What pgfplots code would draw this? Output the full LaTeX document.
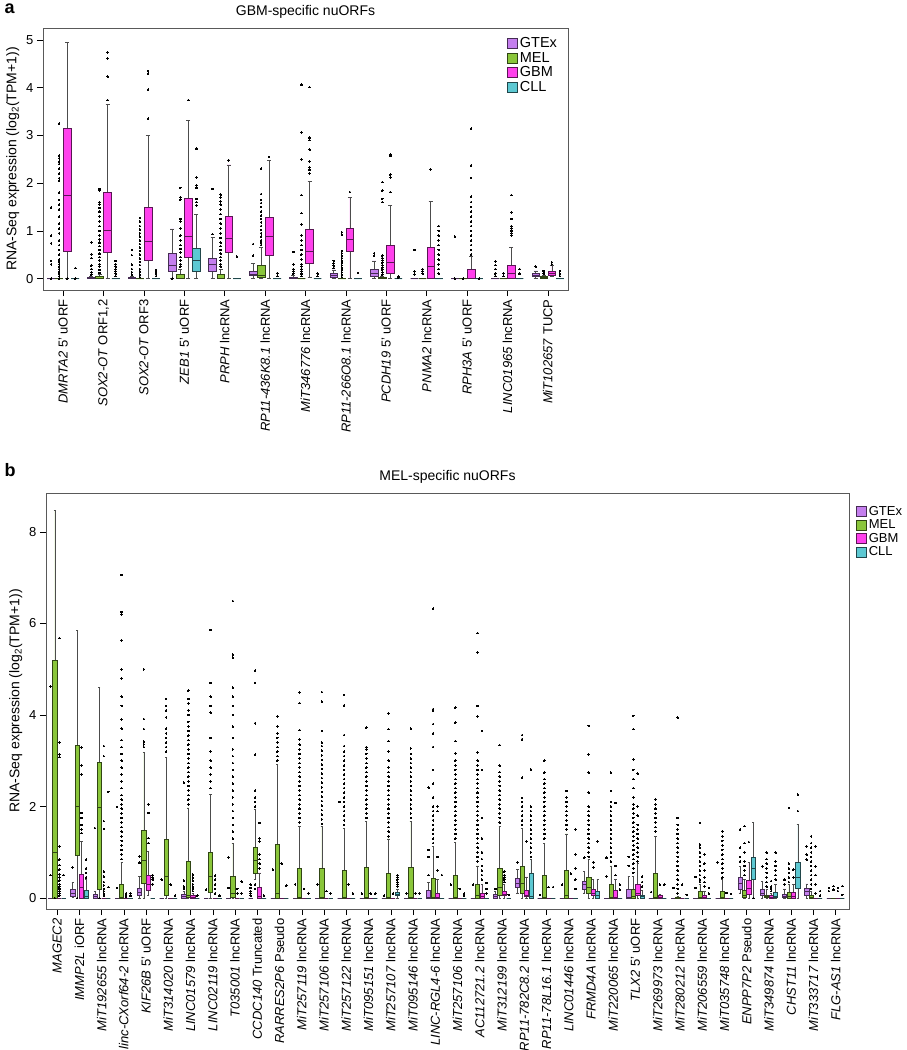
\documentclass[border=0pt]{standalone}
\usepackage{fontspec}
\setmainfont{Liberation Sans}
\usepackage{pgfplots}
\pgfplotsset{compat=1.18}
\usepgfplotslibrary{statistics}

\definecolor{cG}{RGB}{196,126,238}
\definecolor{cM}{RGB}{138,198,58}
\definecolor{cB}{RGB}{255,64,236}
\definecolor{cC}{RGB}{92,200,210}
\pgfplotsset{
  gtex/.style={draw=cG!35!black, fill=cG},
  mel/.style={draw=cM!35!black, fill=cM},
  gbm/.style={draw=cB!35!black, fill=cB},
  cll/.style={draw=cC!35!black, fill=cC},
  panel/.style={
    scale only axis, clip=false,
    axis line style={draw=black!65, line width=0.9pt},
    tick style={black, line width=0.5pt},
    tick align=outside, major tick length=6pt,
    xtick pos=lower, ytick pos=left,
    font=\fontsize{13}{15}\selectfont,
    /pgf/number format/assume math mode=true,
    xticklabel style={rotate=90, anchor=east, font=\fontsize{13}{15}\selectfont},
    yticklabel style={font=\fontsize{13}{15}\selectfont},
    ylabel={RNA-Seq expression (log\textsubscript{2}(TPM+1))},
    ylabel style={font=\fontsize{14}{15}\selectfont},
    title style={font=\fontsize{14}{15}\selectfont},
    legend cell align=left,
    legend image code/.code={\draw[##1, line width=0.7pt] (0pt,-5pt) rectangle (10pt,5pt);},
    legend style={draw=none, fill=none, font=\fontsize{14.5}{15}\selectfont, row sep=-1pt, inner sep=1pt},
  },
}
% style, position, lower whisker, Q1, median, Q3, upper whisker, outliers
\newcommand{\bx}[8]{\addplot[forget plot,#1,line width=0.6pt,mark=*,mark size=0.8pt,
  mark options={draw=black,fill=black,line width=0pt},
  boxplot/every whisker/.style={draw=black!70},
  boxplot prepared={draw direction=y,draw position={#2},box extend=0.19,whisker extend=0.1,
  lower whisker=#3,lower quartile=#4,median=#5,upper quartile=#6,upper whisker=#7}]
  table[row sep=\\,y index=0]{v\\#8};}
\newcommand{\G}[7]{\bx{gtex}{#1-0.3}{#2}{#3}{#4}{#5}{#6}{#7}}
\newcommand{\M}[7]{\bx{mel}{#1-0.1}{#2}{#3}{#4}{#5}{#6}{#7}}
\newcommand{\B}[7]{\bx{gbm}{#1+0.1}{#2}{#3}{#4}{#5}{#6}{#7}}
\newcommand{\C}[7]{\bx{cll}{#1+0.3}{#2}{#3}{#4}{#5}{#6}{#7}}
\newcommand{\Gz}[2]{\G{#1}{0}{0}{0}{0}{0}{#2}}
\newcommand{\Mz}[2]{\M{#1}{0}{0}{0}{0}{0}{#2}}
\newcommand{\Bz}[2]{\B{#1}{0}{0}{0}{0}{0}{#2}}
\newcommand{\Cz}[2]{\C{#1}{0}{0}{0}{0}{0}{#2}}

\begin{document}
\begin{tikzpicture}
\path[use as bounding box] (0pt,0pt) rectangle (907pt,-1050pt);
\node[anchor=north west, font=\bfseries\fontsize{18}{18}\selectfont] at (1pt,0pt) {a};
\node[anchor=north west, font=\bfseries\fontsize{18}{18}\selectfont] at (1pt,-460pt) {b};

% ---------------- panel a ----------------
\begin{axis}[panel, at={(43pt,-28pt)}, anchor=north west,
  width=525pt, height=262pt,
  xmin=-0.5, xmax=12.5, ymin=-0.24, ymax=5.25,
  ytick={0,...,5}, xtick={0,...,12},
  title={GBM-specific nuORFs},
  xticklabels={{\textit{DMRTA2} 5' uORF},{\textit{SOX2-OT} ORF1,2},{\textit{SOX2-OT} ORF3},{\textit{ZEB1} 5' uORF},{\textit{PRPH} lncRNA},{\textit{RP11-436K8.1} lncRNA},{\textit{MiT346776} lncRNA},{\textit{RP11-266O8.1} lncRNA},{\textit{PCDH19} 5' uORF},{\textit{PNMA2} lncRNA},{\textit{RPH3A} 5' uORF},{\textit{LINC01965} lncRNA},{\textit{MiT102657} TUCP}},
  legend style={at={(rel axis cs:0.985,0.975)}, anchor=north east},
]
\addlegendimage{gtex}\addlegendentry{GTEx}
\addlegendimage{mel}\addlegendentry{MEL}
\addlegendimage{gbm}\addlegendentry{GBM}
\addlegendimage{cll}\addlegendentry{CLL}
% DMRTA2
\Gz{0}{0\\0.3\\0.37\\0.74\\0.9\\1.49\\}
\Mz{0}{0\\0.05\\0.1\\0.15\\0.2\\0.25\\0.3\\0.35\\0.4\\0.5\\0.6\\0.7\\0.8\\0.95\\1.05\\1.15\\1.3\\1.45\\1.55\\1.65\\1.8\\2.05\\2.1\\2.2\\2.3\\2.4\\2.45\\2.52\\2.58\\3.25\\}
\B{0}{0}{0.57}{1.74}{3.14}{4.95}{0\\}
\Cz{0}{0\\0.22\\}
% SOX2-OT ORF1,2
\G{1}{0}{0}{0.01}{0.02}{0.04}{0.08\\0.13\\0.2\\0.27\\0.43\\0.51\\0.76\\}
\M{1}{0}{0}{0.01}{0.04}{0.09}{0.12\\0.18\\0.25\\0.3\\0.38\\0.45\\0.52\\0.6\\0.68\\0.75\\0.82\\0.9\\1.0\\1.1\\1.2\\1.3\\1.4\\1.48\\1.55\\1.6\\1.85\\1.88\\}
\B{1}{0}{0.54}{1.01}{1.8}{3.65}{3.74\\4.23\\4.61\\4.74\\}
\Cz{1}{0.05\\0.1\\0.15\\0.2\\0.25\\0.3\\0.37\\}
% SOX2-OT ORF3
\G{2}{0}{0}{0.01}{0.02}{0.04}{0.08\\0.13\\0.2\\0.29\\0.49\\0.6\\}
\Mz{2}{0.03\\0.08\\0.15\\0.2\\0.28\\0.35\\0.42\\0.5\\0.58\\0.65\\0.72\\0.8\\0.88\\0.95\\1.03\\1.1\\1.2\\1.27\\}
\B{2}{0}{0.39}{0.78}{1.49}{3.0}{3.35\\3.96\\4.3\\4.35\\}
\Cz{2}{0.05\\0.1\\0.15\\0.18\\}
% ZEB1
\G{3}{0.01}{0.15}{0.27}{0.52}{1.04}{0\\}
\M{3}{0}{0}{0.01}{0.09}{0.2}{0.25\\0.3\\0.38\\0.45\\0.55\\0.62\\0.7\\0.8\\0.9\\1.05\\1.2\\1.25\\1.65\\1.7\\1.9\\}
\B{3}{0}{0.44}{0.89}{1.68}{3.31}{3.74\\}
\C{3}{0}{0.15}{0.39}{0.64}{1.35}{1.53\\1.6\\1.67\\1.9\\1.95\\2.12\\2.72\\}
% PRPH
\G{4}{0}{0.15}{0.29}{0.43}{0.86}{0.93\\1.88\\}
\M{4}{0}{0}{0.01}{0.09}{0.2}{0.25\\0.3\\0.38\\0.45\\0.52\\0.6\\0.68\\0.75\\0.85\\0.95\\1.05\\1.15\\1.25\\1.35\\1.45\\1.55\\1.62\\1.7\\1.76\\}
\B{4}{0}{0.55}{0.85}{1.3}{2.38}{2.48\\}
\Cz{4}{0.46\\}
% RP11-436K8.1
\G{5}{0}{0.06}{0.09}{0.15}{0.32}{0.48\\0.72\\}
\M{5}{0}{0.02}{0.07}{0.28}{0.65}{0.7\\0.75\\0.8\\0.88\\0.95\\1.02\\1.1\\1.18\\1.25\\1.32\\1.4\\1.5\\1.58\\1.65\\1.77\\2.3\\}
\B{5}{0}{0.48}{0.89}{1.28}{2.48}{2.55\\}
\Cz{5}{0.05\\0.11\\}
% MiT346776
\G{6}{0}{0}{0.01}{0.03}{0.06}{0.1\\0.15\\0.2\\0.3\\0.56\\}
\Mz{6}{0.05\\0.1\\0.15\\0.2\\0.25\\0.3\\0.4\\0.5\\0.6\\0.7\\0.8\\0.9\\1.13\\1.37\\1.75\\2.5\\3.06\\4.06\\}
\B{6}{0.03}{0.32}{0.58}{1.03}{2.03}{2.2\\2.28\\2.33\\2.45\\2.7\\2.9\\2.95\\4.01\\}
\Cz{6}{0.05\\0.1\\}
% RP11-266O8.1
\G{7}{0}{0.02}{0.07}{0.11}{0.18}{0.22\\0.27\\0.32\\0.37\\}
\Mz{7}{0.03\\0.08\\0.13\\0.18\\0.23\\0.28\\0.33\\0.38\\0.43\\0.48\\0.53\\0.58\\0.92\\0.97\\}
\B{7}{0}{0.58}{0.82}{1.05}{1.7}{1.81\\}
\Cz{7}{0.12\\}
% PCDH19
\G{8}{0}{0.04}{0.1}{0.2}{0.37}{0.48\\0.53\\}
\M{8}{0}{0}{0.01}{0.02}{0.04}{0.08\\0.13\\0.18\\0.23\\0.28\\0.33\\0.38\\0.43\\0.48\\1.6\\1.67\\1.84\\2.02\\}
\B{8}{0}{0.1}{0.35}{0.69}{1.53}{1.81\\2.12\\2.18\\2.57\\2.6\\}
\Cz{8}{0.02\\0.05\\}
% PNMA2
\Gz{9}{0.09\\0.15\\0.6\\}
\Mz{9}{0.1\\0.15\\0.2\\}
\B{9}{0}{0}{0.25}{0.65}{1.62}{2.29\\}
\Cz{9}{0.1\\0.2\\0.3\\0.4\\0.5\\0.6\\0.7\\0.8\\0.9\\1.0\\1.1\\}
% RPH3A
\Gz{10}{0\\0.88\\}
\Mz{10}{0\\}
\B{10}{0}{0}{0}{0.2}{0.46}{0.5\\0.6\\0.7\\0.8\\0.9\\1.0\\1.1\\1.2\\1.3\\1.4\\1.5\\1.6\\1.72\\2.11\\2.37\\3.14\\}
\Cz{10}{0\\}
% LINC01965
\Gz{11}{0.05\\0.1\\0.2\\0.28\\0.36\\}
\Mz{11}{0.05\\0.11\\}
\B{11}{0}{0}{0.11}{0.28}{0.65}{0.9\\0.95\\1.0\\1.05\\1.1\\1.25\\1.39\\1.75\\}
\Cz{11}{0.1\\0.2\\}
% MiT102657
\G{12}{0}{0.04}{0.07}{0.1}{0.16}{0.25\\}
\M{12}{0}{0.01}{0.02}{0.04}{0.07}{0.1\\0.14\\0.16\\}
\B{12}{0.04}{0.07}{0.11}{0.15}{0.27}{0.3\\0.34\\}
\Cz{12}{0.05\\0.1\\0.16\\}
\end{axis}

% ---------------- panel b ----------------
\begin{axis}[panel, at={(46pt,-493pt)}, anchor=north west,
  width=803pt, height=416pt,
  xmin=-0.5, xmax=35.6, ymin=-0.24, ymax=8.85,
  ytick={0,2,4,6,8}, xtick={0,...,35},
  title={MEL-specific nuORFs},
  xticklabels={{\textit{MAGEC2}},{\textit{IMMP2L} iORF},{\textit{MiT192655} lncRNA},{\textit{linc-CXorf64-2} lncRNA},{\textit{KIF26B} 5' uORF},{\textit{MiT314020} lncRNA},{\textit{LINC01579} lncRNA},{\textit{LINC02119} lncRNA},{\textit{T035001} lncRNA},{\textit{CCDC140} Truncated},{\textit{RARRES2P6} Pseudo},{\textit{MiT257119} lncRNA},{\textit{MiT257106} lncRNA},{\textit{MiT257122} lncRNA},{\textit{MiT095151} lncRNA},{\textit{MiT257107} lncRNA},{\textit{MiT095146} lncRNA},{\textit{LINC-RGL4-6} lncRNA},{\textit{MiT257106} lncRNA},{\textit{AC112721.2} lncRNA},{\textit{MiT312199} lncRNA},{\textit{RP11-782C8.2} lncRNA},{\textit{RP11-78L16.1} lncRNA},{\textit{LINC01446} lncRNA},{\textit{FRMD4A} lncRNA},{\textit{MiT220065} lncRNA},{\textit{TLX2} 5' uORF},{\textit{MiT269973} lncRNA},{\textit{MiT280212} lncRNA},{\textit{MiT206559} lncRNA},{\textit{MiT035748} lncRNA},{\textit{ENPP7P2} Pseudo},{\textit{MiT349874} lncRNA},{\textit{CHST11} lncRNA},{\textit{MiT333717} lncRNA},{\textit{FLG-AS1} lncRNA}},
  legend style={at={(rel axis cs:1.008,0.975)}, anchor=north west, font=\fontsize{13}{14}\selectfont, inner sep=0.5pt},
]
\addlegendimage{gtex}\addlegendentry{GTEx}
\addlegendimage{mel}\addlegendentry{MEL}
\addlegendimage{gbm}\addlegendentry{GBM}
\addlegendimage{cll}\addlegendentry{CLL}
% MAGEC2
\Gz{0}{0.5\\4.62\\}
\M{0}{0}{0}{1.01}{5.19}{8.47}{0\\}
\Bz{0}{0.05\\0.1\\0.15\\0.2\\0.25\\0.3\\0.38\\0.45\\0.52\\0.62\\0.72\\0.84\\1.13\\3.08\\3.14\\3.4\\5.68\\}
\Cz{0}{0.5\\}
% IMMP2L
\G{1}{0.01}{0.04}{0.1}{0.2}{0.35}{0.67\\}
\M{1}{0}{0.93}{2.01}{3.34}{5.84}{0\\}
\B{1}{0}{0}{0.24}{0.51}{1.24}{1.42\\1.5\\1.6\\1.75\\1.86\\2.7\\2.9\\3.29\\}
\C{1}{0}{0}{0.04}{0.17}{0.4}{0.45\\0.55\\0.65\\0.84\\}
% MiT192655
\G{2}{0}{0}{0.03}{0.08}{0.15}{1.53\\}
\M{2}{0}{0.2}{1.99}{2.96}{4.6}{0\\}
\Bz{2}{0.05\\0.1\\0.15\\0.2\\0.28\\0.35\\0.47\\0.58\\1.51\\1.68\\3.1\\3.32\\}
\Cz{2}{0.24\\2.32\\}
% linc-CXorf64-2
\Gz{3}{0.22\\1.99\\}
\M{3}{0}{0}{0.02}{0.31}{0.77}{0.85\\0.95\\1.05\\1.15\\1.25\\1.35\\1.45\\1.55\\1.65\\1.75\\1.85\\1.95\\2.05\\2.15\\2.25\\2.4\\2.55\\2.7\\2.85\\3.0\\3.15\\3.3\\3.45\\3.7\\3.9\\4.2\\4.4\\4.8\\5.0\\5.63\\6.2\\6.25\\7.06\\}
\Bz{3}{0.03\\0.06\\0.1\\}
\Cz{3}{0.05\\0.1\\}
% KIF26B
\G{4}{0}{0.07}{0.13}{0.22}{0.47}{0.77\\0.91\\}
\M{4}{0}{0.33}{0.82}{1.48}{3.18}{3.3\\3.36\\3.42\\3.69\\3.91\\5.0\\}
\B{4}{0.05}{0.16}{0.29}{0.5}{1.02}{1.2\\1.31\\1.86\\2.05\\}
\Cz{4}{0.3\\0.4\\0.45\\0.5\\}
% MiT314020
\Gz{5}{0.4\\}
\M{5}{0}{0.07}{0.47}{1.28}{3.07}{3.2\\3.3\\3.4\\3.5\\3.6\\3.7\\3.95\\4.1\\4.2\\4.35\\}
\Bz{5}{0.29\\}
\Cz{5}{0.05\\}
% LINC01579
\G{6}{0}{0}{0.03}{0.08}{0.15}{0.2\\0.25\\0.38\\2.52\\}
\M{6}{0}{0.02}{0.05}{0.8}{1.97}{2.05\\2.15\\2.25\\2.35\\2.45\\2.55\\2.65\\2.75\\2.85\\2.95\\3.05\\3.15\\3.25\\3.35\\3.45\\3.55\\3.65\\3.75\\3.85\\4.0\\4.1\\4.25\\4.35\\4.53\\}
\B{6}{0}{0}{0.02}{0.05}{0.1}{0.15\\0.2\\0.25\\0.3\\0.38\\0.45\\0.51\\}
\Cz{6}{0.05\\}
% LINC02119
\Gz{7}{0.18\\}
\M{7}{0}{0.13}{0.47}{0.99}{2.26}{2.4\\2.55\\2.7\\2.85\\3.0\\3.2\\3.5\\4.05\\4.2\\4.4\\4.7\\5.86\\}
\Bz{7}{0.1\\0.2\\0.3\\0.4\\0.49\\}
\Cz{7}{0.05\\}
% T035001
\Gz{8}{0.22\\0.89\\}
\M{8}{0}{0.01}{0.11}{0.47}{1.2}{1.3\\1.45\\1.6\\1.75\\1.9\\2.05\\2.2\\2.35\\2.5\\2.65\\2.8\\2.95\\3.1\\3.25\\3.5\\3.75\\4.0\\4.2\\4.4\\4.6\\5.25\\5.32\\6.49\\}
\Bz{8}{0.1\\0.2\\}
\Cz{8}{0.1\\0.36\\}
% CCDC140
\Gz{9}{0.05\\0.1\\0.15\\0.22\\0.29\\}
\M{9}{0.4}{0.55}{0.82}{1.1}{1.94}{0.2\\0.3\\2.0\\2.1\\2.2\\2.35\\3.13\\3.82\\4.7\\4.97\\}
\B{9}{0}{0}{0.04}{0.24}{0.55}{0.65\\0.75\\0.85\\0.95\\1.24\\1.3\\1.64\\}
\Cz{9}{0.05\\}
% RARRES2P6
\Gz{10}{0.62\\}
\M{10}{0}{0}{0.11}{1.18}{2.92}{3.0\\3.1\\3.2\\3.3\\3.4\\3.5\\3.6\\3.75\\3.97\\}
\Bz{10}{0.75\\}
\Cz{10}{0.27\\}
% MiT257119
\Gz{11}{0.3\\}
\M{11}{0}{0}{0.01}{0.66}{1.57}{1.65\\1.75\\1.85\\1.95\\2.05\\2.15\\2.25\\2.35\\2.45\\2.55\\2.65\\2.75\\2.85\\2.95\\3.05\\3.15\\3.25\\3.35\\3.47\\3.67\\4.26\\4.49\\}
\Bz{11}{0.2\\}
\Cz{11}{0.1\\}
% MiT257106
\Gz{12}{0.3\\}
\M{12}{0}{0}{0.01}{0.64}{1.57}{1.62\\1.72\\1.82\\1.92\\2.02\\2.12\\2.22\\2.32\\2.42\\2.52\\2.62\\2.72\\2.82\\2.92\\3.02\\3.12\\3.22\\3.32\\3.4\\3.65\\4.29\\4.5\\}
\Bz{12}{0.15\\}
\Cz{12}{0.1\\}
% MiT257122
\Gz{13}{2.1\\}
\M{13}{0}{0}{0.01}{0.61}{1.53}{1.6\\1.7\\1.8\\1.9\\2.0\\2.1\\2.2\\2.3\\2.4\\2.5\\2.6\\2.7\\2.8\\2.9\\3.0\\3.1\\3.2\\3.32\\3.56\\4.21\\4.44\\}
\Bz{13}{0.3\\}
\Cz{13}{0.1\\}
% MiT095151
\Gz{14}{0.1\\}
\M{14}{0}{0}{0.01}{0.68}{1.68}{1.75\\1.85\\1.95\\2.05\\2.15\\2.25\\2.35\\2.45\\2.55\\2.65\\2.75\\2.85\\2.95\\3.05\\3.15\\3.25\\3.3\\3.72\\}
\Bz{14}{0.1\\}
\Cz{14}{0.1\\}
% MiT257107
\Gz{15}{0.05\\}
\M{15}{0}{0}{0.01}{0.53}{1.29}{1.35\\1.45\\1.55\\1.65\\1.75\\1.85\\1.95\\2.05\\2.15\\2.25\\2.35\\2.45\\2.55\\2.65\\2.75\\2.85\\3.0\\3.2\\3.43\\3.69\\4.03\\}
\Bz{15}{0.1\\}
\C{15}{0}{0.05}{0.08}{0.12}{0.2}{0.25\\0.3\\0.35\\0.4\\0.45\\0.5\\}
% MiT095146
\Gz{16}{0.1\\}
\M{16}{0}{0}{0.01}{0.68}{1.68}{1.75\\1.85\\1.95\\2.05\\2.15\\2.25\\2.35\\2.45\\2.55\\2.65\\2.75\\2.85\\2.95\\3.05\\3.15\\3.27\\3.7\\}
\Bz{16}{0.1\\}
\Cz{16}{0.1\\}
% LINC-RGL4-6
\G{17}{0}{0}{0.02}{0.17}{0.35}{0.5\\0.9\\1.05\\2.41\\}
\M{17}{0}{0}{0.02}{0.44}{1.13}{1.2\\1.3\\1.4\\1.5\\1.6\\1.7\\1.8\\1.9\\2.0\\2.2\\2.5\\2.8\\3.3\\3.6\\3.8\\4.1\\4.13\\6.32\\}
\B{17}{0}{0}{0.02}{0.11}{0.4}{0.6\\0.9\\1.9\\2.0\\}
\Cz{17}{0.5\\}
% MiT257106
\Gz{18}{0.29\\}
\M{18}{0}{0}{0.01}{0.5}{1.22}{1.3\\1.4\\1.5\\1.6\\1.7\\1.8\\1.9\\2.0\\2.1\\2.2\\2.3\\2.4\\2.5\\2.6\\2.7\\2.8\\2.9\\3.0\\3.16\\3.43\\3.83\\4.16\\}
\Bz{18}{0.2\\}
\Cz{18}{0.05\\0.1\\}
% AC112721.2
\Gz{19}{0.29\\}
\M{19}{0}{0}{0.07}{0.31}{0.7}{0.8\\0.9\\1.0\\1.1\\1.2\\1.3\\1.4\\1.5\\1.6\\1.7\\1.8\\1.9\\2.0\\2.1\\2.2\\2.3\\2.4\\2.5\\2.6\\2.7\\2.8\\2.9\\3.0\\3.18\\3.97\\4.2\\5.37\\5.79\\}
\B{19}{0}{0}{0.03}{0.11}{0.29}{0.4\\0.5\\0.6\\0.7\\0.85\\1.0\\1.3\\1.75\\2.8\\3.65\\}
\Cz{19}{0.1\\0.2\\0.33\\}
% MiT312199
\G{20}{0}{0}{0.03}{0.08}{0.15}{0.2\\}
\M{20}{0}{0.07}{0.24}{0.66}{1.57}{1.65\\1.75\\1.85\\1.95\\2.05\\2.15\\2.25\\2.35\\2.45\\2.55\\2.65\\2.75\\2.89\\3.34\\}
\B{20}{0}{0.05}{0.09}{0.15}{0.3}{0.35\\0.4\\0.45\\0.5\\0.58\\}
\Cz{20}{0.07\\}
% RP11-782C8.2
\G{21}{0.11}{0.24}{0.33}{0.44}{0.62}{0.78\\}
\M{21}{0}{0.11}{0.33}{0.69}{1.53}{1.6\\1.7\\1.8\\1.9\\2.0\\2.1\\2.19\\2.63\\3.47\\3.56\\}
\B{21}{0}{0.04}{0.07}{0.17}{0.46}{1.24\\}
\C{21}{0}{0}{0.03}{0.53}{0.84}{0.9\\1.0\\1.1\\1.2\\1.3\\1.4\\1.5\\1.6\\1.7\\1.8\\1.9\\2.0\\2.81\\}
% RP11-78L16.1
\Gz{22}{0.07\\}
\M{22}{0}{0}{0.01}{0.49}{1.2}{1.3\\1.4\\1.5\\1.6\\1.7\\1.8\\1.9\\2.0\\2.1\\2.2\\2.3\\2.4\\2.5\\2.6\\2.74\\3.0\\}
\Bz{22}{0.24\\}
\Cz{22}{0.24\\}
% LINC01446
\Gz{23}{0.29\\}
\M{23}{0}{0}{0.07}{0.6}{1.4}{1.5\\1.6\\1.7\\1.8\\1.9\\2.0\\2.1\\2.2\\2.34\\}
\Bz{23}{0.53\\}
\Cz{23}{0.2\\0.4\\0.65\\0.95\\1.5\\}
% FRMD4A
\G{24}{0.11}{0.2}{0.29}{0.37}{0.58}{0.88\\}
\M{24}{0}{0.11}{0.24}{0.46}{0.84}{0.9\\1.0\\1.1\\1.2\\1.3\\1.4\\1.5\\1.6\\1.7\\1.8\\1.9\\2.0\\2.3\\2.74\\3.14\\3.76\\}
\B{24}{0}{0.05}{0.11}{0.2}{0.4}{0.67\\0.78\\}
\C{24}{0}{0}{0.07}{0.15}{0.4}{1.24\\}
% MiT220065
\Gz{25}{0.47\\0.88\\}
\M{25}{0}{0}{0.02}{0.31}{0.7}{0.8\\0.9\\1.0\\1.1\\1.2\\1.3\\1.4\\1.5\\1.6\\1.7\\1.8\\1.9\\2.0\\2.1\\2.34\\2.74\\}
\B{25}{0}{0}{0.02}{0.16}{0.4}{0.5\\0.7\\2.08\\}
\Cz{25}{0.18\\0.29\\}
% TLX2
\G{26}{0}{0}{0.02}{0.2}{0.47}{0.7\\0.9\\}
\M{26}{0}{0}{0.03}{0.2}{0.47}{0.55\\0.65\\0.75\\0.85\\0.95\\1.05\\1.15\\1.25\\1.35\\1.45\\1.55\\1.65\\1.75\\1.85\\1.95\\2.05\\2.2\\2.4\\2.6\\2.8\\3.03\\3.69\\3.98\\}
\B{26}{0}{0.07}{0.11}{0.31}{0.75}{0.8\\0.9\\1.0\\1.1\\1.2\\1.3\\1.4\\1.5\\1.6\\1.8\\2.0\\2.72\\}
\C{26}{0}{0}{0.04}{0.07}{0.17}{0.25\\0.35\\0.47\\}
% MiT269973
\Gz{27}{0.13\\}
\M{27}{0}{0}{0.01}{0.55}{1.35}{1.45\\1.55\\1.65\\1.75\\1.85\\1.95\\2.05\\2.15\\}
\B{27}{0}{0}{0.02}{0.05}{0.08}{0.29\\}
\Cz{27}{0.29\\}
% MiT280212
\Gz{28}{0.22\\}
\M{28}{0}{0}{0.01}{0.02}{0.04}{0.1\\0.2\\0.3\\0.4\\0.5\\0.6\\0.7\\0.8\\0.9\\1.0\\1.1\\1.2\\1.3\\1.4\\1.5\\1.6\\1.75\\3.94\\}
\Bz{28}{0.29\\}
\Cz{28}{0.07\\}
% MiT206559
\Gz{29}{0.22\\0.46\\}
\M{29}{0}{0}{0.01}{0.15}{0.3}{0.35\\0.4\\0.5\\0.6\\0.7\\0.8\\0.9\\1.0\\1.1\\1.17\\1.64\\}
\B{29}{0}{0}{0.01}{0.07}{0.15}{0.25\\0.35\\0.45\\0.6\\0.75\\0.95\\}
\Cz{29}{0.1\\0.22\\}
% MiT035748
\Gz{30}{0.78\\}
\M{30}{0}{0}{0.02}{0.15}{0.4}{0.45\\0.55\\0.65\\0.75\\0.85\\0.95\\1.05\\1.15\\1.25\\1.35\\1.46\\}
\Bz{30}{0.11\\}
\Cz{30}{0.09\\}
% ENPP7P2
\G{31}{0.11}{0.2}{0.33}{0.45}{0.69}{0.8\\0.9\\1.1\\1.5\\}
\M{31}{0}{0.02}{0.07}{0.17}{0.4}{0.5\\0.6\\0.7\\0.8\\1.0\\1.2\\1.57\\}
\B{31}{0}{0.09}{0.22}{0.38}{0.78}{1.22\\}
\C{31}{0}{0.41}{0.64}{0.9}{1.65}{0\\}
% MiT349874
\G{32}{0}{0.05}{0.11}{0.18}{0.37}{0.69\\}
\M{32}{0}{0.01}{0.03}{0.07}{0.18}{0.25\\0.35\\0.45\\0.55\\0.65\\0.75\\0.85\\0.99\\}
\B{32}{0}{0}{0.02}{0.05}{0.1}{0.15\\0.2\\0.25\\0.37\\}
\C{32}{0}{0.01}{0.04}{0.13}{0.3}{0.4\\0.5\\0.6\\0.7\\0.8\\0.99\\}
% CHST11
\G{33}{0}{0.01}{0.03}{0.09}{0.2}{0.3\\0.4\\}
\M{33}{0}{0}{0.03}{0.12}{0.3}{0.35\\0.45\\0.55\\0.65\\0.75\\1.97\\}
\B{33}{0}{0}{0.03}{0.13}{0.3}{0.45\\0.62\\}
\C{33}{0}{0.22}{0.46}{0.77}{1.61}{1.9\\2.26\\}
% MiT333717
\G{34}{0}{0.07}{0.15}{0.22}{0.31}{0.84\\0.95\\1.13\\}
\M{34}{0}{0}{0.02}{0.07}{0.15}{0.2\\0.3\\0.4\\0.5\\0.6\\0.7\\0.8\\0.9\\1.0\\1.1\\1.2\\1.35\\}
\Bz{34}{0.1\\0.3\\0.5\\0.69\\1.13\\}
\Cz{34}{0.05\\0.15\\}
% FLG-AS1
\Gz{35}{0.15\\0.22\\}
\Mz{35}{0.18\\0.26\\}
\Bz{35}{0.15\\0.22\\}
\Cz{35}{0.07\\0.26\\}
\end{axis}
\end{tikzpicture}
\end{document}
